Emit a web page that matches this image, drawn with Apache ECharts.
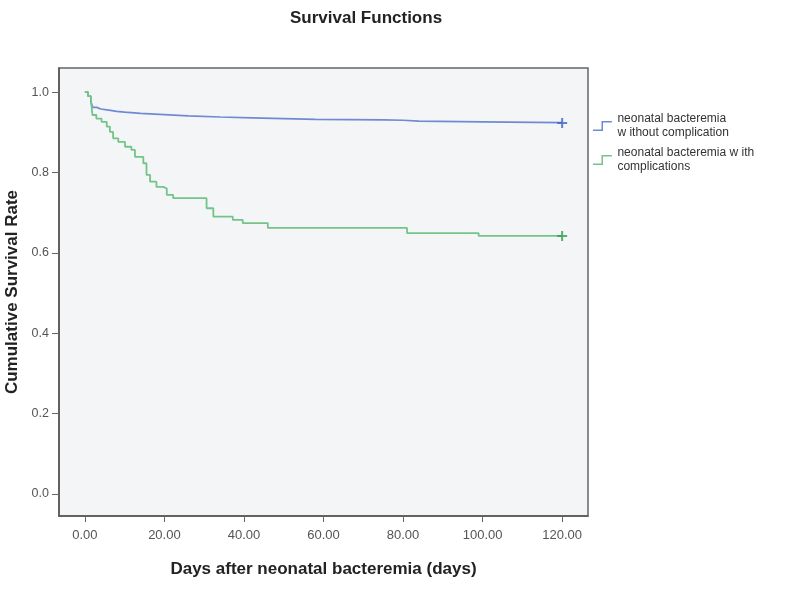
<!DOCTYPE html>
<html>
<head>
<meta charset="utf-8">
<script src="https://cdn.jsdelivr.net/npm/echarts@6/dist/echarts.min.js"></script>
<style>
  html, body { margin: 0; padding: 0; background: #fff; }
  #chart { width: 800px; height: 596px; }
</style>
</head>
<body>
<div id="chart"></div>
<script>
// Kaplan-Meier curves (day, cumulative survival)
const blueDays = [0, 0.8, 1.5, 2, 3, 4, 6, 8, 10, 14, 20, 26, 34, 42, 58, 75, 80, 84, 100, 120];
const blueSurv = [1.0, 0.99, 0.975, 0.962, 0.958, 0.955, 0.952, 0.95, 0.947, 0.944, 0.941, 0.938, 0.936, 0.932, 0.931, 0.93, 0.928, 0.926, 0.924, 0.923];

const greenDays = [0, 0.8, 1.5, 1.9, 2.9, 4.2, 5.5, 6.3, 7.1, 8.4, 10.1, 11.7, 12.6, 14.7, 15.5, 16.4, 18, 19.7, 20.6, 22.2, 30.6, 32.3, 37.2, 39.7, 46, 81, 99, 120];
const greenSurv = [1.0, 0.99, 0.985, 0.943, 0.934, 0.926, 0.914, 0.901, 0.885, 0.876, 0.864, 0.856, 0.839, 0.823, 0.794, 0.777, 0.764, 0.76, 0.744, 0.736, 0.711, 0.69, 0.682, 0.674, 0.662, 0.649, 0.642, 0.642];

const xTicks = [0, 20, 40, 60, 80, 100, 120];
const yTicks = [0, 0.2, 0.4, 0.6, 0.8, 1.0];

const seriesNames = ['neonatal bacteremia\nw ithout complication', 'neonatal bacteremia w ith\ncomplications'];

const zip = (xs, ys) => xs.map((x, i) => [x, ys[i]]);
const last = (xs, ys) => [[xs[xs.length - 1], ys[ys.length - 1]]];

const plusPath = 'path://M4,0 H6 V4 H10 V6 H6 V10 H4 V6 H0 V4 H4 Z';
const stepIcon = 'path://M0,9 H9 V0 H20 V1.6 H10.6 V10.6 H0 Z';

const chart = echarts.init(document.getElementById('chart'));
chart.setOption({
  animation: false,
  backgroundColor: '#ffffff',
  title: {
    text: 'Survival Functions',
    left: 285,
    top: 5,
    textStyle: { fontFamily: 'Liberation Sans', fontSize: 17, fontWeight: 'bold', color: '#222' }
  },
  legend: {
    orient: 'vertical',
    left: 588,
    top: 107,
    itemWidth: 20,
    itemHeight: 10,
    itemGap: 6,
    data: [
      { name: seriesNames[0], icon: stepIcon, itemStyle: { color: '#6f8ad4' } },
      { name: seriesNames[1], icon: stepIcon, itemStyle: { color: '#74c489' } }
    ],
    textStyle: { fontFamily: 'Liberation Sans', fontSize: 12, color: '#333', lineHeight: 14 }
  },
  grid: {
    left: 59, top: 68, right: 212, bottom: 80,
    outerBoundsMode: 'none',
    containLabel: false,
    show: true,
    backgroundColor: '#f4f5f7',
    borderColor: '#666',
    borderWidth: 1.5
  },
  xAxis: {
    type: 'value',
    min: -6.5,
    max: 126.5,
    name: 'Days after neonatal bacteremia (days)',
    nameLocation: 'middle',
    nameGap: 45,
    nameTextStyle: { fontFamily: 'Liberation Sans', fontSize: 17, fontWeight: 'bold', color: '#222' },
    axisLine: { show: true, onZero: false, lineStyle: { color: '#555', width: 1.5 } },
    axisTick: { show: true, length: 6, customValues: xTicks, lineStyle: { color: '#666' } },
    axisLabel: {
      customValues: xTicks,
      formatter: v => v.toFixed(2),
      fontFamily: 'Liberation Sans', fontSize: 13, color: '#555', margin: 13
    },
    splitLine: { show: false }
  },
  yAxis: {
    type: 'value',
    min: -0.055,
    max: 1.06,
    name: 'Cumulative Survival Rate',
    nameLocation: 'middle',
    nameGap: 36,
    nameTextStyle: { fontFamily: 'Liberation Sans', fontSize: 17, fontWeight: 'bold', color: '#222' },
    axisLine: { show: true, onZero: false, lineStyle: { color: '#555', width: 1.5 } },
    axisTick: { show: true, length: 7, customValues: yTicks, lineStyle: { color: '#666' } },
    axisLabel: {
      customValues: yTicks,
      formatter: v => v.toFixed(1),
      fontFamily: 'Liberation Sans', fontSize: 12.5, color: '#555', margin: 10
    },
    splitLine: { show: false }
  },
  series: [
    {
      name: seriesNames[0],
      type: 'line',
      step: 'end',
      showSymbol: false,
      data: zip(blueDays, blueSurv),
      lineStyle: { color: '#6f8ad4', width: 1.7 },
      itemStyle: { color: '#6f8ad4' }
    },
    {
      name: seriesNames[1],
      type: 'line',
      step: 'end',
      showSymbol: false,
      data: zip(greenDays, greenSurv),
      lineStyle: { color: '#74c489', width: 1.8 },
      itemStyle: { color: '#74c489' }
    },
    {
      name: 'censor-blue',
      type: 'scatter',
      symbol: plusPath,
      symbolSize: 10,
      data: last(blueDays, blueSurv),
      itemStyle: { color: '#3c62c4' },
      z: 3
    },
    {
      name: 'censor-green',
      type: 'scatter',
      symbol: plusPath,
      symbolSize: 10,
      data: last(greenDays, greenSurv),
      itemStyle: { color: '#2f9e4a' },
      z: 3
    }
  ]
});
</script>
</body>
</html>
